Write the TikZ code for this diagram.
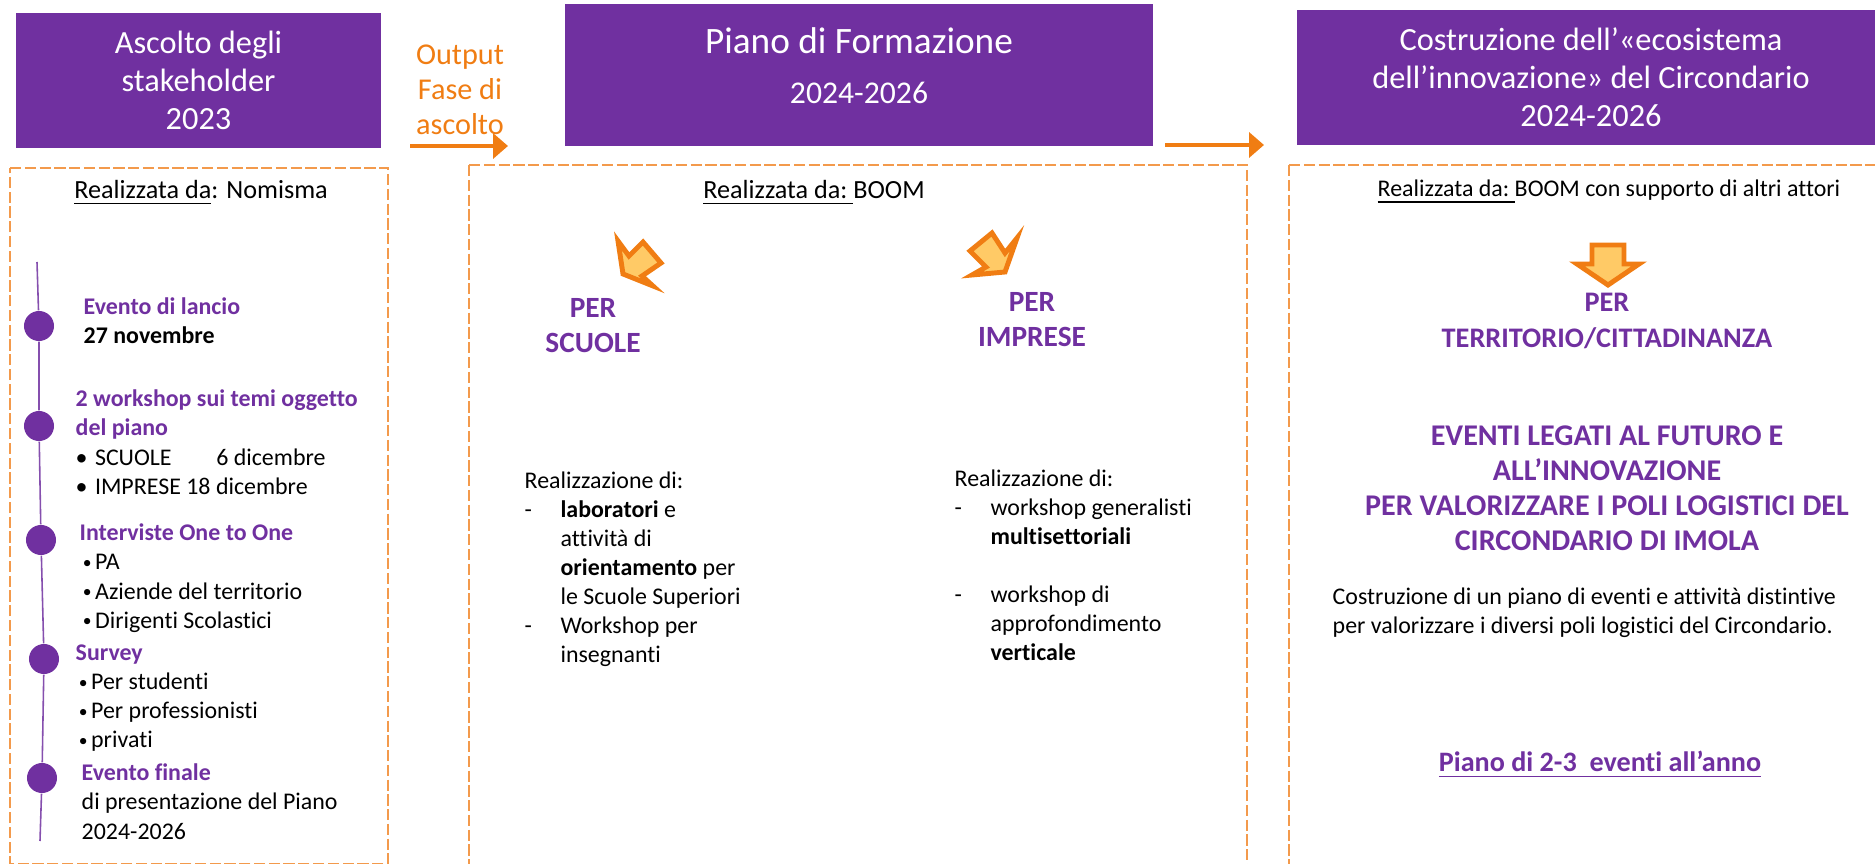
\documentclass[tikz,border=0pt]{standalone}
\usepackage{fontspec}
\setmainfont[Ligatures=NoCommon]{Carlito}
\usetikzlibrary{arrows.meta, positioning}
\definecolor{viola}{HTML}{7030A0}
\definecolor{arancio}{HTML}{F07D13}
\definecolor{tratteggio}{HTML}{F39A4C}
\definecolor{giallo}{HTML}{FFCA66}
\newcommand{\bodyfont}{\fontsize{6.8}{8.25}\selectfont}
\newcommand{\realfont}{\fontsize{7.45}{9}\selectfont}
\newcommand{\headfont}{\fontsize{9.2}{10.8}\selectfont}
\newcommand{\perfont}{\fontsize{8.35}{10}\selectfont\bfseries}
\newcommand{\dashitem}{\makebox[10.2pt][l]{-}}
\newcommand{\dashcont}{\hspace*{10.2pt}}
\newcommand{\bulitem}{\makebox[4.4pt][r]{\fontsize{5}{5}\selectfont\raisebox{0.3pt}{•}\hspace{1pt}}}
\tikzset{
	canvas/.style={x={(0.01cm,0cm)},y={(0cm,-0.01cm)}},
	headbox/.style={fill=viola,text=white,font=\headfont,align=center,inner sep=0pt},
	phase/.style={draw=tratteggio,dash pattern=on 3.2pt off 1pt,line width=0.35pt},
	flow/.style={-{Triangle[length=4.2pt,width=7pt]},arancio,line width=1.4pt},
	bent/.style={fill=giallo,draw=arancio,line width=1.4pt,miter limit=6},
	stage/.style={circle,fill=viola,minimum width=0.3cm,minimum height=0.27cm,inner sep=0pt},
	rail/.style={viola!85,line width=0.45pt},
	body/.style={font=\bodyfont,align=left,anchor=north west,inner sep=0pt},
	per/.style={font=\perfont,text=viola,align=center,inner sep=0pt}
}
\begin{document}
\begin{tikzpicture}[canvas]
	\useasboundingbox (0,0) rectangle (1875,864);
	% intestazioni
	\node[headbox,minimum width=3.65cm,minimum height=1.35cm] (Hascolto) at (198.5,80.5) {Ascolto degli\\stakeholder\\2023};
	\node[headbox,minimum width=5.88cm,minimum height=1.42cm] (Hpiano) at (859,75) {};
	\node[headbox,fill=none,font=\fontsize{10.6}{12}\selectfont] (Tpiano) at (Hpiano.center |- 0,41) {Piano di Formazione};
	\node[headbox,fill=none,font=\fontsize{9}{10.8}\selectfont] (Ypiano) at (Hpiano.center |- 0,93) {2024-2026};
	\node[headbox,minimum width=5.88cm,minimum height=1.35cm] (Heco) at (1591,77.5) {Costruzione dell’«ecosistema\\dell’innovazione» del Circondario\\2024-2026};
	\node[font=\fontsize{8.6}{9.95}\selectfont,text=arancio,align=center,inner sep=0pt] (Output) at (460,90) {Output\\Fase di\\ascolto};
	\coordinate (Aout) at (410,146);
	\coordinate (Bout) at (508,146);
	\coordinate (Aeco) at (1165,145);
	\coordinate (Beco) at (1264,145);
	\draw[flow] (Aout)--(Bout);
	\draw[flow] (Aeco)--(Beco);
	% riquadri
	\draw[phase] (10,168)--(388,168)--(388,863.5)--(10,863.5)--cycle;
	\draw[phase] (469,165)--(1247,165)--(1247,864) (469,165)--(469,864);
	\draw[phase] (1289,165)--(1875,165) (1289,165)--(1289,864);
	\node[body,anchor=center,font=\realfont] (Rascolto) at (201,193) {\underline{Realizzata da}: Nomisma};
	\node[body,anchor=center,font=\realfont] (Rpiano) at (814,193) {\underline{Realizzata da:\ }BOOM};
	\node[body,anchor=center] (Reco) at (1609,192) {\underline{Realizzata da:\ }BOOM con supporto di altri attori};
	% fasi
	\coordinate (Ttop) at (37,262);
	\node[stage] (S1) at (39,326) {};
	\node[stage] (S2) at (39,426) {};
	\node[stage] (S3) at (41,540) {};
	\node[stage] (S4) at (44,659) {};
	\node[stage] (S5) at (42,778) {};
	\coordinate (Tbot) at (40,841);
	\draw[rail] (Ttop)--(S1)--(S2)--(S3)--(S4)--(S5)--(Tbot);
	\node[body] (T1) at (83,297.5) {\textcolor{viola}{\textbf{Evento di lancio}}\\\textbf{27 novembre}};
	\node[body] (T2) at (75,389.5) {\textcolor{viola}{\textbf{2 workshop sui temi oggetto}}\\\textcolor{viola}{\textbf{del piano}}\\\makebox[5.5pt][l]{•}SCUOLE\hspace{12.7pt}6 dicembre\\\makebox[5.5pt][l]{•}IMPRESE 18 dicembre};
	\node[body] (T3) at (79,523.5) {\textcolor{viola}{\textbf{Interviste One to One}}\\\bulitem PA\\\bulitem Aziende del territorio\\\bulitem Dirigenti Scolastici};
	\node[body] (T4) at (75,644) {\textcolor{viola}{\textbf{Survey}}\\\bulitem Per studenti\\\bulitem Per professionisti\\\bulitem privati};
	\node[body] (T5) at (81,763.5) {\textcolor{viola}{\textbf{Evento finale}}\\di presentazione del Piano\\2024-2026};
	% frecce
	\draw[bent] (618,241)--(629,256)--(643,242)--(661,263)--(642,276)--(653,286)--(623,274)--cycle;
	\draw[bent] (1017,238)--(1005,272)--(972,275)--(986,267)--(970,251)--(992,233)--(1005,253)--cycle;
	\draw[bent] (1592,245)--(1624,245)--(1624,264)--(1639,264)--(1608,285)--(1577,264)--(1592,264)--cycle;
	\node[per] (Pscuole) at (593,326) {PER\\SCUOLE};
	\node[per] (Pimprese) at (1032,320) {PER\\IMPRESE};
	\node[per,font=\fontsize{8.05}{10}\selectfont\bfseries] (Pterr) at (1607,321) {PER\\TERRITORIO/CITTADINANZA};
	% contenuti
	\node[body] (Cscuole) at (524,471) {Realizzazione di:\\\dashitem\textbf{laboratori} e\\\dashcont attività di\\\dashcont\textbf{orientamento} per\\\dashcont le Scuole Superiori\\\dashitem Workshop per\\\dashcont insegnanti};
	\node[body] (Cimprese) at (954,469.5) {Realizzazione di:\\\dashitem workshop generalisti\\\dashcont\textbf{multisettoriali}\\[8.25pt]\dashitem workshop di\\\dashcont approfondimento\\\dashcont\textbf{verticale}};
	\node[per,font=\fontsize{8.55}{10}\selectfont\bfseries] (Eventi) at (1607,488) {EVENTI LEGATI AL FUTURO E\\ALL’INNOVAZIONE\\PER VALORIZZARE I POLI LOGISTICI DEL\\CIRCONDARIO DI IMOLA};
	\node[body] (Cpiano) at (1332,587) {Costruzione di un piano di eventi e attività distintive\\per valorizzare i diversi poli logistici del Circondario.};
	\node[per,font=\fontsize{8}{10}\selectfont\bfseries] (Ranno) at (1600,765) {\underline{Piano di 2-3\ \ eventi all’anno}};
\end{tikzpicture}
\end{document}
